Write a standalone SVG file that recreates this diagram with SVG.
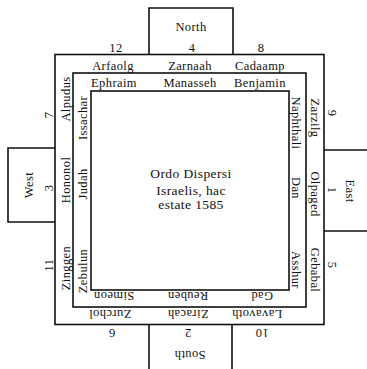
<svg xmlns="http://www.w3.org/2000/svg" width="367" height="369" viewBox="0 0 367 369">
<style>
  .ln{fill:none;stroke:#111;stroke-width:1.6}
  text{font-family:"Liberation Serif","Times New Roman",serif;font-size:12.5px;fill:#111;text-anchor:middle;letter-spacing:0.4px}
  .c{font-size:13.5px}
</style>
<rect width="367" height="369" fill="#fff"/>
<g id="frames">
  <rect id="outer" class="ln" x="55" y="54.5" width="269" height="270"/>
  <rect id="middle" class="ln" x="73" y="73" width="233" height="234"/>
  <rect id="inner" class="ln" x="91" y="91" width="198" height="199"/>
</g>
<g id="north">
  <path class="ln" d="M149,54.5 V8 H233 V54.5"/>
  <text x="191" y="30.5">North</text>
  <text x="116" y="51.5">12</text>
  <text x="192" y="51.5">4</text>
  <text x="261" y="51.5">8</text>
  <text x="113" y="70">Arfaolg</text>
  <text x="190" y="70">Zarnaah</text>
  <text x="260" y="70">Cadaamp</text>
  <text x="114" y="87">Ephraim</text>
  <text x="190" y="87">Manasseh</text>
  <text x="260" y="87">Benjamin</text>
</g>
<g id="south">
  <path class="ln" d="M149,324.5 V369 M232,324.5 V369"/>
  <text transform="translate(190,350.5) rotate(180)">South</text>
  <text transform="translate(112,329) rotate(180)">6</text>
  <text transform="translate(188,329) rotate(180)">2</text>
  <text transform="translate(262,329) rotate(180)">10</text>
  <text transform="translate(110,310) rotate(180)">Zurchol</text>
  <text transform="translate(188,310) rotate(180)">Ziracah</text>
  <text transform="translate(257,310) rotate(180)">Lavavoth</text>
  <text transform="translate(114,292) rotate(180)">Simeon</text>
  <text transform="translate(188,292) rotate(180)">Reuben</text>
  <text transform="translate(262,292) rotate(180)">Gad</text>
</g>
<g id="west">
  <path class="ln" d="M55,148 H8 V222 H55"/>
  <text transform="translate(33,185) rotate(-90)">West</text>
  <text transform="translate(53,115) rotate(-90)">7</text>
  <text transform="translate(53,188) rotate(-90)">3</text>
  <text transform="translate(53,265) rotate(-90)">11</text>
  <text transform="translate(69.5,99) rotate(-90)">Alpudus</text>
  <text transform="translate(69.5,180) rotate(-90)">Hononol</text>
  <text transform="translate(69.5,268) rotate(-90)">Zinggen</text>
  <text transform="translate(87,118) rotate(-90)">Issachar</text>
  <text transform="translate(87,184) rotate(-90)">Judah</text>
  <text transform="translate(87,271) rotate(-90)">Zebulun</text>
</g>
<g id="east">
  <path class="ln" d="M324,150 H367 M324,231 H367"/>
  <text transform="translate(346,191) rotate(90)">East</text>
  <text transform="translate(327.5,113) rotate(90)">9</text>
  <text transform="translate(327.5,190) rotate(90)">1</text>
  <text transform="translate(327.5,265) rotate(90)">5</text>
  <text transform="translate(311,118) rotate(90)">Zarzilg</text>
  <text transform="translate(311,194) rotate(90)">Olpaged</text>
  <text transform="translate(311,270) rotate(90)">Gebabal</text>
  <text transform="translate(292,123) rotate(90)">Naphthali</text>
  <text transform="translate(292,188) rotate(90)">Dan</text>
  <text transform="translate(292,270) rotate(90)">Asshur</text>
</g>
<g id="title">
  <text class="c" x="191" y="178">Ordo Dispersi</text>
  <text class="c" x="191" y="195">Israelis, hac</text>
  <text class="c" x="191" y="208.5">estate 1585</text>
</g>
</svg>
